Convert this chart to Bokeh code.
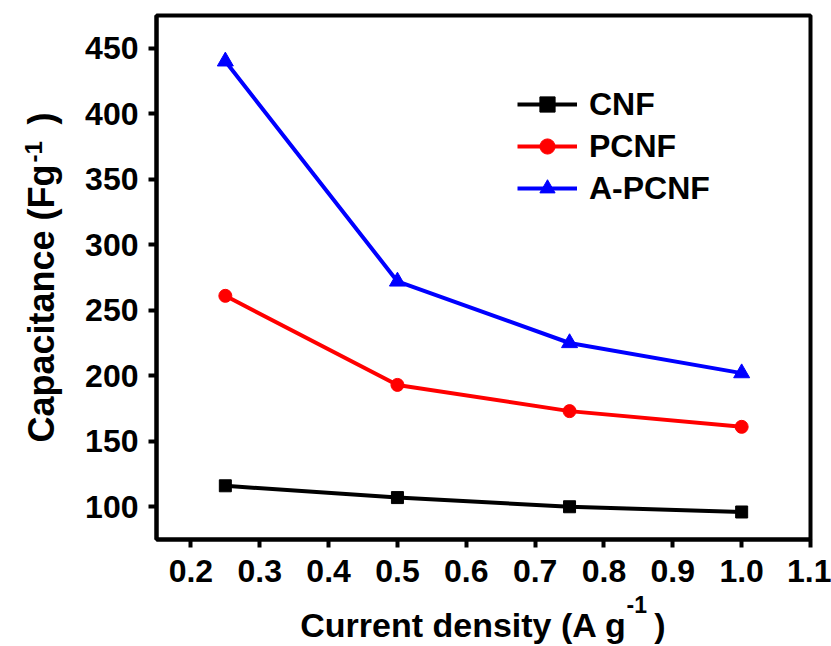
from bokeh.plotting import figure
from bokeh.models import Range1d, FixedTicker, PrintfTickFormatter, Legend, LegendItem, Title
from bokeh.embed import file_html
from bokeh.resources import INLINE

# ---- data ----
current_density = [0.25, 0.5, 0.75, 1.0]
cnf = [116, 107, 100, 96]
pcnf = [261, 193, 173, 161]
apcnf = [440, 272, 225, 202]

series_names = ["CNF", "PCNF", "A-PCNF"]
x_ticks = [0.2, 0.3, 0.4, 0.5, 0.6, 0.7, 0.8, 0.9, 1.0, 1.1]
y_ticks = [100, 150, 200, 250, 300, 350, 400, 450]
x_title = "Current density (A g\u00a0\u00a0\u00a0)"
y_title = "Capacitance (Fg\u00a0\u00a0\u00a0\u00a0)"
sup_text = "-1"

X0, X1 = 0.15, 1.1
Y0, Y1 = 75, 475

W, H = 831, 646
FL, FR, FT, FB = 156, 810, 15, 541  # frame pixel edges
FONT = "Liberation Sans"

p = figure(width=W, height=H, output_backend="svg", toolbar_location=None,
           x_range=Range1d(X0, X1), y_range=Range1d(Y0, Y1),
           min_border_left=FL, min_border_right=W - FR,
           min_border_top=FT, min_border_bottom=H - FB)
p.background_fill_color = "white"
p.border_fill_color = "white"
p.grid.visible = False
p.outline_line_color = "black"
p.outline_line_width = 4
p.outline_line_alpha = 1

for ax in (p.xaxis[0], p.yaxis[0]):
    ax.axis_line_width = 4
    ax.axis_line_color = "black"
    ax.major_tick_line_width = 4
    ax.major_tick_line_color = "black"
    ax.major_tick_in = 0
    ax.major_tick_out = 8
    ax.minor_tick_line_color = None
    ax.major_label_text_font = FONT
    ax.major_label_text_font_style = "bold"
    ax.major_label_text_font_size = "32px"
    ax.major_label_text_color = "black"
    ax.axis_label_text_font = FONT
    ax.axis_label_text_font_style = "bold"
    ax.axis_label_text_color = "black"

p.xaxis[0].ticker = FixedTicker(ticks=x_ticks)
p.xaxis[0].formatter = PrintfTickFormatter(format="%.1f")
p.xaxis[0].major_label_standoff = 12
p.xaxis[0].axis_label = x_title
p.xaxis[0].axis_label_text_font_size = "34px"
p.xaxis[0].axis_label_standoff = 21

p.yaxis[0].ticker = FixedTicker(ticks=y_ticks)
p.yaxis[0].major_label_standoff = 10
p.yaxis[0].axis_label = y_title
p.yaxis[0].axis_label_text_font_size = "36px"
p.yaxis[0].axis_label_standoff = 20

# ---- series ----
r_cnf_l = p.line(current_density, cnf, line_color="black", line_width=4)
r_cnf_m = p.scatter(current_density, cnf, marker="square", size=12, color="black")
r_pcnf_l = p.line(current_density, pcnf, line_color="#ff0000", line_width=4)
r_pcnf_m = p.scatter(current_density, pcnf, marker="circle", size=13, color="#ff0000")
r_ap_l = p.line(current_density, apcnf, line_color="#0000ff", line_width=4)
r_ap_m = p.scatter(current_density, apcnf, marker="triangle", size=16, color="#0000ff")

legend = Legend(items=[
    LegendItem(label=series_names[0], renderers=[r_cnf_l, r_cnf_m]),
    LegendItem(label=series_names[1], renderers=[r_pcnf_l, r_pcnf_m]),
    LegendItem(label=series_names[2], renderers=[r_ap_l, r_ap_m]),
], location=(517 - FL, FB - 209), orientation="vertical")
legend.glyph_width = 60
legend.glyph_height = 38
legend.spacing = 4
legend.padding = 0
legend.margin = 0
legend.label_standoff = 12
legend.label_text_font = FONT
legend.label_text_font_style = "bold"
legend.label_text_font_size = "32px"
legend.label_text_color = "black"
legend.label_height = 38
legend.border_line_alpha = 0
legend.background_fill_alpha = 0
p.add_layout(legend)

# ---- superscripts of the axis titles ----
sup_x = Title(text=sup_text, align="left", offset=626 - FL, vertical_align="top",
              standoff=-101, text_font=FONT, text_font_style="bold",
              text_font_size="23px", text_color="black")
p.add_layout(sup_x, "below")

sup_y = Title(text=sup_text, align="left", offset=FB - 164, vertical_align="bottom",
              standoff=-47, text_font=FONT, text_font_style="bold",
              text_font_size="24px", text_color="black")
p.add_layout(sup_y, "left")

open("out.html", "w").write(file_html(p, INLINE))
